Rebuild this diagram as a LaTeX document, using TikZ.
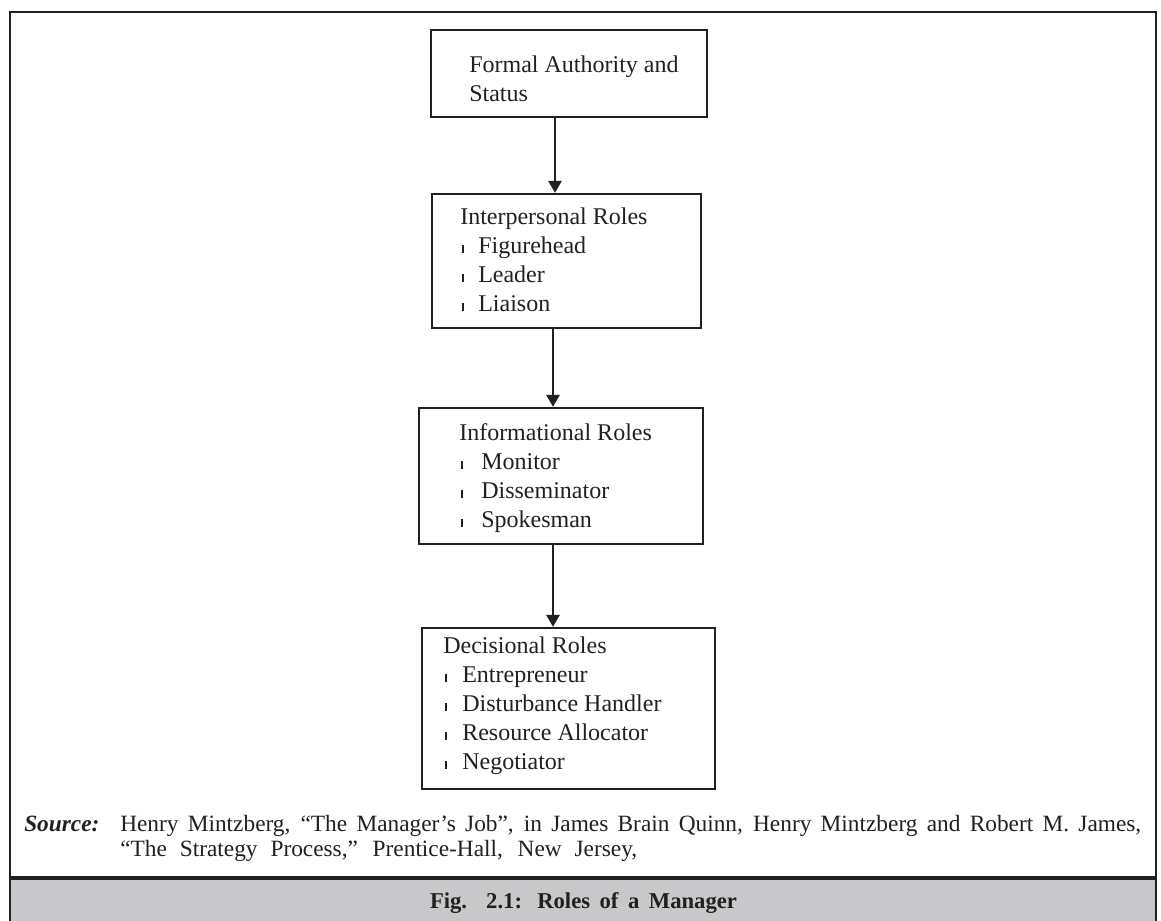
\documentclass[tikz,border=0pt]{standalone}
\usepackage{fontspec}
\setmainfont{Liberation Serif}
\usetikzlibrary{arrows.meta,fit}

\definecolor{ink}{HTML}{231F20}
\definecolor{bandgrey}{HTML}{C8C8CA}

% one list entry: small tick mark, then the role name
\newcommand\roleitem[2]{\strut\hspace*{1.5pt}\rule{1pt}{6pt}\hspace*{#1}#2}

\tikzset{
  rolebox/.style={draw=ink, line width=1.8pt, inner sep=0pt},
  roletext/.style={anchor=north west, inner sep=0pt, align=left, text=ink,
    font=\fontsize{18pt}{21.75pt}\selectfont},
  flow/.style={draw=ink, line width=1.5pt, -{Triangle[length=9pt,width=10pt]}},
  frame/.style={draw=ink, line width=2.2pt},
  srctext/.style={anchor=base west, inner sep=0pt, text=ink,
    font=\fontsize{17.5pt}{21pt}\selectfont},
}

\begin{document}
\begin{tikzpicture}[x=0.75pt, y=-0.75pt]
  \useasboundingbox (0,0) rectangle (1161,921);
  \clip (0,0) rectangle (1161,921);

  % caption band and outer frame
  \fill[bandgrey] (10,878) rectangle (1156,930);
  \draw[frame] (10,930) -- (10,12) -- (1156,12) -- (1156,930);
  \draw[frame, line width=2.8pt] (10,878) -- (1156,878);

  % boxes
  \node[rolebox, fit={(431,30) (707,117)}] (b1) {};
  \node[rolebox, fit={(432,194) (701,328)}] (b2) {};
  \node[rolebox, fit={(419,408) (703,544)}] (b3) {};
  \node[rolebox, fit={(422,628) (715,789)}] (b4) {};

  % box contents (first baseline sits 20.3 units below the node top)
  \node[roletext] (t1) at (469,51.7) {\strut Formal Authority and\\\strut Status};
  \node[roletext] (t2) at (460,203.7) {\strut Interpersonal Roles\\
    \roleitem{11pt}{Figurehead}\\
    \roleitem{11pt}{Leader}\\
    \roleitem{11pt}{Liaison}};
  \node[roletext] (t3) at (459,419.7) {\strut Informational Roles\\
    \roleitem{14pt}{Monitor}\\
    \roleitem{14pt}{Disseminator}\\
    \roleitem{14pt}{Spokesman}};
  \node[roletext] (t4) at (443,632.7) {\strut Decisional Roles\\
    \roleitem{11.75pt}{Entrepreneur}\\
    \roleitem{11.75pt}{Disturbance Handler}\\
    \roleitem{11.75pt}{Resource Allocator}\\
    \roleitem{11.75pt}{Negotiator}};

  % connectors
  \coordinate (a1) at (555,0);
  \coordinate (a2) at (553,0);
  \draw[flow] (b1.south -| a1) -- (b2.north -| a1);
  \draw[flow] (b2.south -| a2) -- (b3.north -| a2);
  \draw[flow] (b3.south -| a2) -- (b4.north -| a2);

  % source note
  \node[srctext, font=\fontsize{17.5pt}{21pt}\selectfont\bfseries\itshape] (src) at (24,831) {Source:};
  \node[srctext] (s1) at (120,831) {\makebox[765.75pt][s]{Henry Mintzberg, “The Manager’s Job”, in James Brain Quinn, Henry Mintzberg and Robert M. James,}};
  \node[srctext] (s2) at (120,856) {\makebox[387.75pt][s]{“The Strategy Process,” Prentice-Hall, New Jersey,}};

  % caption
  \node[anchor=base, inner sep=0pt, text=ink, font=\fontsize{17pt}{20pt}\selectfont\bfseries] (cap) at (583.5,908)
    {\makebox[230.25pt][s]{Fig. 2.1: Roles of a Manager}};
\end{tikzpicture}
\end{document}
